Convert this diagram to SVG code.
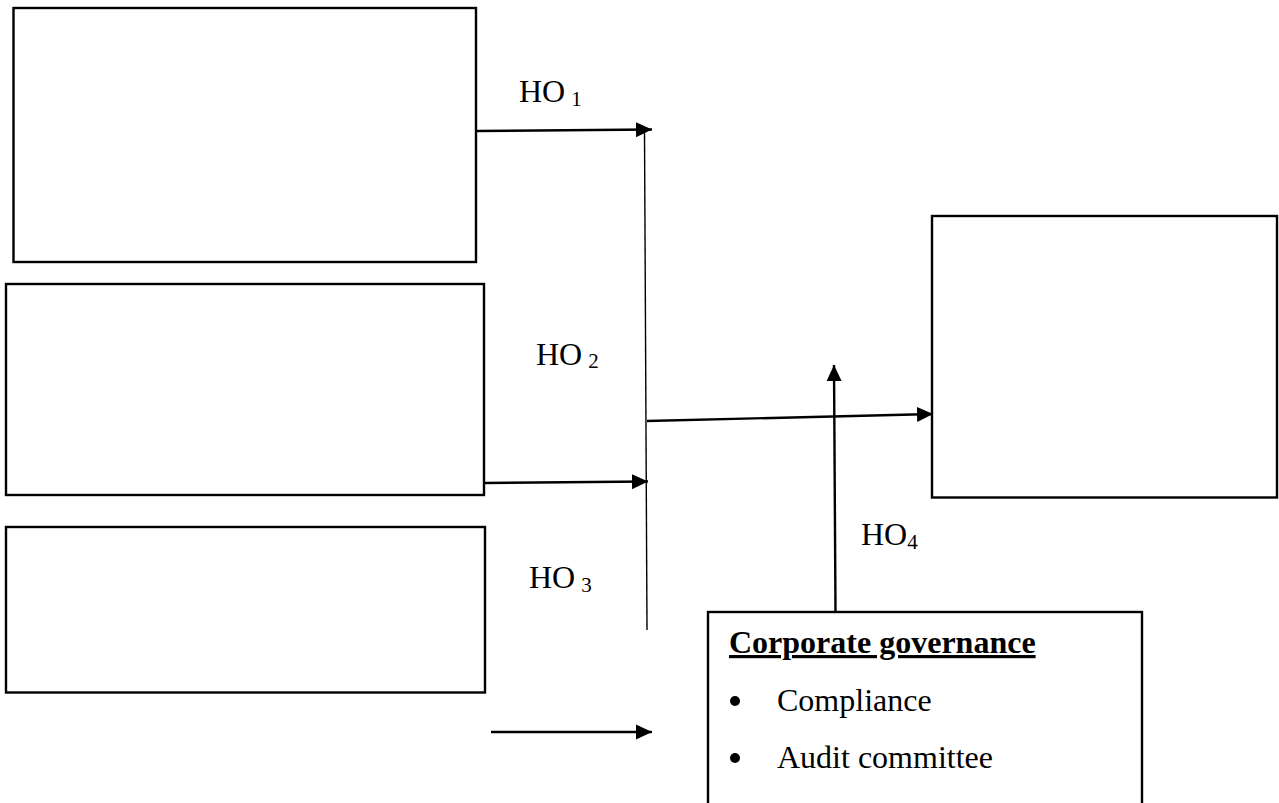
<svg xmlns="http://www.w3.org/2000/svg" width="1279" height="803" viewBox="0 0 1279 803">
<style>
.box{fill:#fff;stroke:#000;stroke-width:2.4}
.ln{fill:none;stroke:#000;stroke-width:2.4}
.thin{fill:none;stroke:#000;stroke-width:1.4}
.t{font-family:"Liberation Serif","Times New Roman",serif;font-size:32px;fill:#000}
.sub{font-family:"Liberation Serif","Times New Roman",serif;font-size:21px;fill:#000}
.b{font-weight:bold;text-decoration:underline}
.dot{fill:#000}
</style>
<defs>
<marker id="ah" markerUnits="userSpaceOnUse" markerWidth="18" markerHeight="18" refX="16" refY="8.5" orient="auto">
<path d="M0,1 L16,8.5 L0,16 Z" fill="#000"/>
</marker>
</defs>
<rect width="1279" height="803" fill="#fff"/>
<g id="box1"><rect class="box" x="13.5" y="8" width="462.5" height="254"/></g>
<g id="box2"><rect class="box" x="6" y="284" width="478" height="211"/></g>
<g id="box3"><rect class="box" x="6" y="527" width="479" height="165.5"/></g>
<g id="box-right"><rect class="box" x="932" y="216" width="345" height="281.5"/></g>
<g id="box-cg">
<rect class="box" x="708" y="612" width="434" height="200"/>
<text class="t b" x="729" y="653">Corporate governance</text>
<circle class="dot" cx="735" cy="701" r="5"/>
<text class="t" x="777" y="711">Compliance</text>
<circle class="dot" cx="735" cy="758" r="5"/>
<text class="t" x="777" y="768">Audit committee</text>
</g>
<g id="connectors">
<line class="ln" x1="476" y1="131" x2="652" y2="129.5" marker-end="url(#ah)"/>
<line class="thin" x1="644.5" y1="131" x2="647" y2="630"/>
<line class="ln" x1="484" y1="483" x2="648" y2="481.5" marker-end="url(#ah)"/>
<line class="ln" x1="647" y1="421" x2="933" y2="414" marker-end="url(#ah)"/>
<line class="ln" x1="835.5" y1="612" x2="834" y2="365" marker-end="url(#ah)"/>
<line class="ln" x1="491" y1="732" x2="652" y2="732" marker-end="url(#ah)"/>
</g>
<g id="labels">
<text class="t" x="519" y="102">HO<tspan class="sub" dx="6" dy="4">1</tspan></text>
<text class="t" x="536" y="365">HO<tspan class="sub" dx="6" dy="3">2</tspan></text>
<text class="t" x="529" y="588">HO<tspan class="sub" dx="6" dy="4">3</tspan></text>
<text class="t" x="861" y="545">HO<tspan class="sub" dy="4">4</tspan></text>
</g>
</svg>
